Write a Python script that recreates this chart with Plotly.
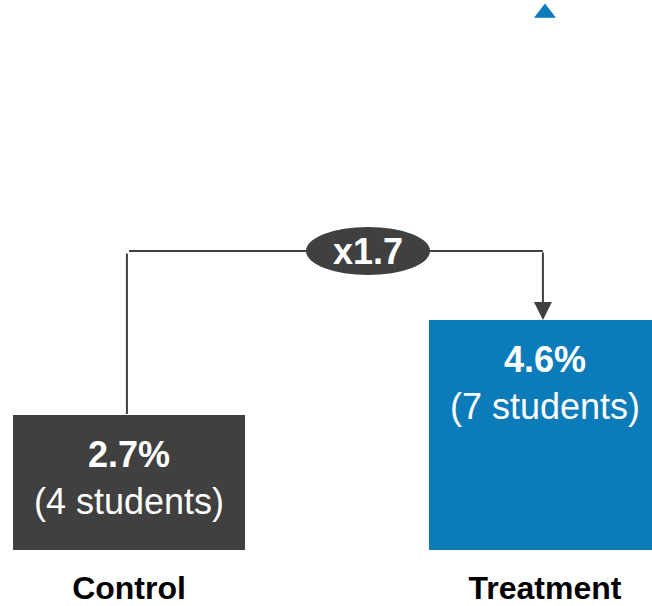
import plotly.graph_objects as go

# Data
groups = ["Control", "Treatment"]
rates = [2.7, 4.6]            # percent
students = [4, 7]
ratio_label = "x1.7"
bar_colors = ["#404040", "#0b7bba"]
line_color = "#404040"

FONT = "Liberation Sans, Arial, sans-serif"

fig = go.Figure()

fig.add_trace(go.Bar(
    x=groups,
    y=rates,
    width=0.5577,
    marker=dict(color=bar_colors, line=dict(width=0)),
    hoverinfo="skip",
    showlegend=False,
))

# small marker above the treatment bar
fig.add_trace(go.Scatter(
    x=[groups[1]], y=[10.74],
    mode="markers",
    marker=dict(symbol="triangle-up", size=19, color=bar_colors[1]),
    hoverinfo="skip",
    showlegend=False,
))

# value labels inside the bars
for g, r, n in zip(groups, rates, students):
    fig.add_annotation(
        x=g, y=r, xref="x", yref="y",
        text=f"<b>{r}%</b><br>({n} students)",
        showarrow=False,
        yanchor="top", yshift=-17,
        font=dict(family=FONT, size=36, color="white"),
        align="center",
    )

# bracket connecting the two bars
bracket_y = 5.98
fig.add_shape(type="line", xref="x", yref="y",
              x0=-0.005, x1=-0.005, y0=rates[0] + 0.02, y1=bracket_y - 0.05,
              line=dict(color=line_color, width=2))
fig.add_shape(type="line", xref="x", yref="y",
              x0=0.0, x1=0.995, y0=bracket_y, y1=bracket_y,
              line=dict(color=line_color, width=2))
fig.add_annotation(
    x=0.995, y=rates[1], xref="x", yref="y",
    ax=0.995, ay=bracket_y, axref="x", ayref="y",
    showarrow=True, arrowhead=2, arrowsize=1.8, arrowwidth=2,
    arrowcolor=line_color, text="", standoff=0,
)

# ratio badge
fig.add_shape(type="circle", xref="x", yref="y",
              x0=0.4255, x1=0.7236, y0=5.50, y1=6.46,
              fillcolor="#404040", line=dict(width=0))
fig.add_annotation(
    x=0.5745, y=5.98, xref="x", yref="y",
    text=f"<b>{ratio_label}</b>", showarrow=False,
    font=dict(family=FONT, size=36, color="white"),
)

fig.update_layout(
    width=652, height=606,
    margin=dict(l=0, r=0, t=0, b=56, autoexpand=False),
    paper_bgcolor="white", plot_bgcolor="white",
    xaxis=dict(
        type="category",
        range=[-0.3101, 1.2572],
        showgrid=False, zeroline=False, showline=False, ticks="",
        tickfont=dict(family=FONT, size=32, color="black", weight="bold"),
        ticklabelstandoff=16,
        automargin=False,
    ),
    yaxis=dict(
        range=[0, 11.0],
        visible=False,
        automargin=False,
    ),
)

fig.write_html("out.html")
